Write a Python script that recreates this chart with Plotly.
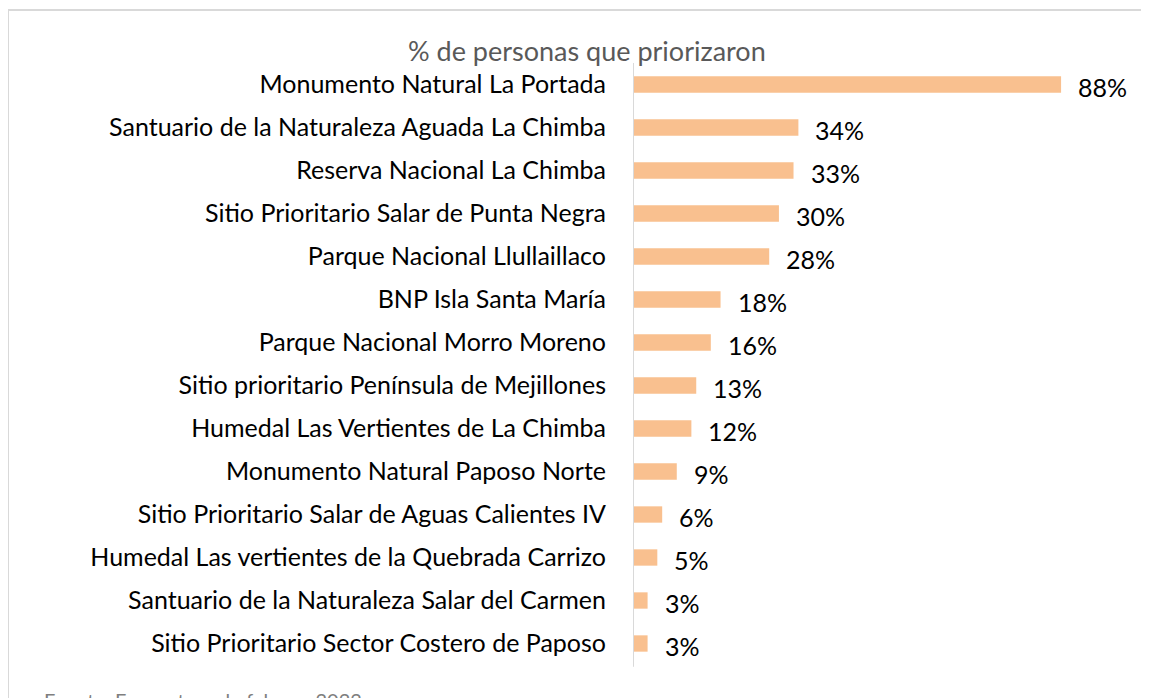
import plotly.graph_objects as go

categories = [
    "Monumento Natural La Portada",
    "Santuario de la Naturaleza Aguada La Chimba",
    "Reserva Nacional La Chimba",
    "Sitio Prioritario Salar de Punta Negra",
    "Parque Nacional Llullaillaco",
    "BNP Isla Santa María",
    "Parque Nacional Morro Moreno",
    "Sitio prioritario Península de Mejillones",
    "Humedal Las Vertientes de La Chimba",
    "Monumento Natural Paposo Norte",
    "Sitio Prioritario Salar de Aguas Calientes IV",
    "Humedal Las vertientes de la Quebrada Carrizo",
    "Santuario de la Naturaleza Salar del Carmen",
    "Sitio Prioritario Sector Costero de Paposo",
]
values = [88, 34, 33, 30, 28, 18, 16, 13, 12, 9, 6, 5, 3, 3]
labels = [f"{v}%" for v in values]

FONT = "Lato"
# page body has an 8px margin, so figure coords = screenshot coords - 8
W, H = 1141, 690
L, R, T, B = 625, 49, 55, 33
pw, ph = W - L - R, H - T - B

fig = go.Figure(go.Bar(
    y=categories, x=values, orientation="h",
    marker=dict(color="#F9C08F", line=dict(width=0)),
    width=0.38, hoverinfo="x+y",
))

annotations = [
    dict(x=v, y=c, xref="x", yref="y", text=t, showarrow=False,
         xanchor="left", yanchor="middle", xshift=15, yshift=-2,
         font=dict(family=FONT, size=25, color="#000000"))
    for c, v, t in zip(categories, values, labels)
]
annotations += [
    dict(text="% de personas que priorizaron", x=(579 - L) / pw, y=(H - B - 42) / ph,
         xref="paper", yref="paper", showarrow=False, xanchor="center", yanchor="middle",
         font=dict(family=FONT, size=27, color="#595959")),
    dict(text="Fuente: Encuesta web, febrero 2022", x=(34 - L) / pw, y=(H - B - 678) / ph,
         xref="paper", yref="paper", showarrow=False, xanchor="left", yanchor="top",
         font=dict(family=FONT, size=20, color="#7f7f7f")),
]

fig.update_layout(
    width=W, height=H,
    margin=dict(l=L, r=R, t=T, b=B, autoexpand=False),
    paper_bgcolor="white", plot_bgcolor="white",
    showlegend=False,
    font=dict(family=FONT, size=25, color="#000000"),
    xaxis=dict(range=[0, 96], visible=False, fixedrange=True),
    yaxis=dict(
        autorange="reversed", showgrid=False, zeroline=False,
        showline=False, ticks="", ticklabelstandoff=26,
        tickfont=dict(family=FONT, size=25, color="#000000"),
    ),
    annotations=annotations,
    shapes=[
        dict(type="line", xref="x", yref="paper", x0=0, x1=0, y0=-0.003, y1=1.0,
             line=dict(color="#d9d9d9", width=2)),
        dict(type="rect", xref="paper", yref="paper",
             x0=(0 - L) / pw, x1=(W + 10 - L) / pw,
             y0=(H - B - (H + 20)) / ph, y1=(H - B - 2) / ph,
             line=dict(color="#d9d9d9", width=2), fillcolor="rgba(0,0,0,0)", layer="below"),
    ],
)

fig.write_html("out.html")
